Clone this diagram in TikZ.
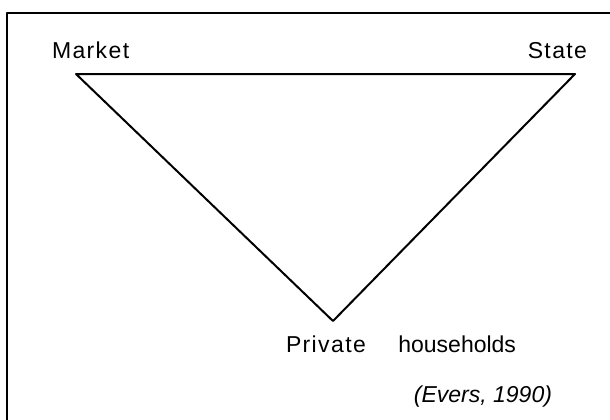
\documentclass[tikz,border=0pt]{standalone}
\usepackage{fontspec}
\setmainfont{Liberation Sans}
\newfontfamily\spaced[LetterSpace=6]{Liberation Sans}
\begin{document}
\begin{tikzpicture}[x=1pt, y=-1pt, font=\fontsize{23}{27}\selectfont, line cap=round, line join=round, line width=2pt]
\tikzset{label/.style={inner sep=0pt, font=\fontsize{23}{27}\spaced}}
\useasboundingbox (0,0) rectangle (610,420);
\draw (7,420)--(7,13)--(610,13);
\path (76,74)coordinate(M)+(499,0)coordinate(S) (333,321)coordinate(H);
\draw (M)--(S)--(H)--cycle;
\node[label, anchor=base west] (market) at (51,59) {Market};
\node[label, anchor=base east] (state) at (588,59) {State};
\node[label, anchor=base west] (private) at (285,352) {Private};
\node[inner sep=0pt, anchor=base east] (households) at (517,352) {households};
\node[inner sep=0pt, anchor=base east, font=\fontsize{23}{27}\selectfont\itshape] (source) at (553,402) {(Evers, 1990)};
\end{tikzpicture}
\end{document}
